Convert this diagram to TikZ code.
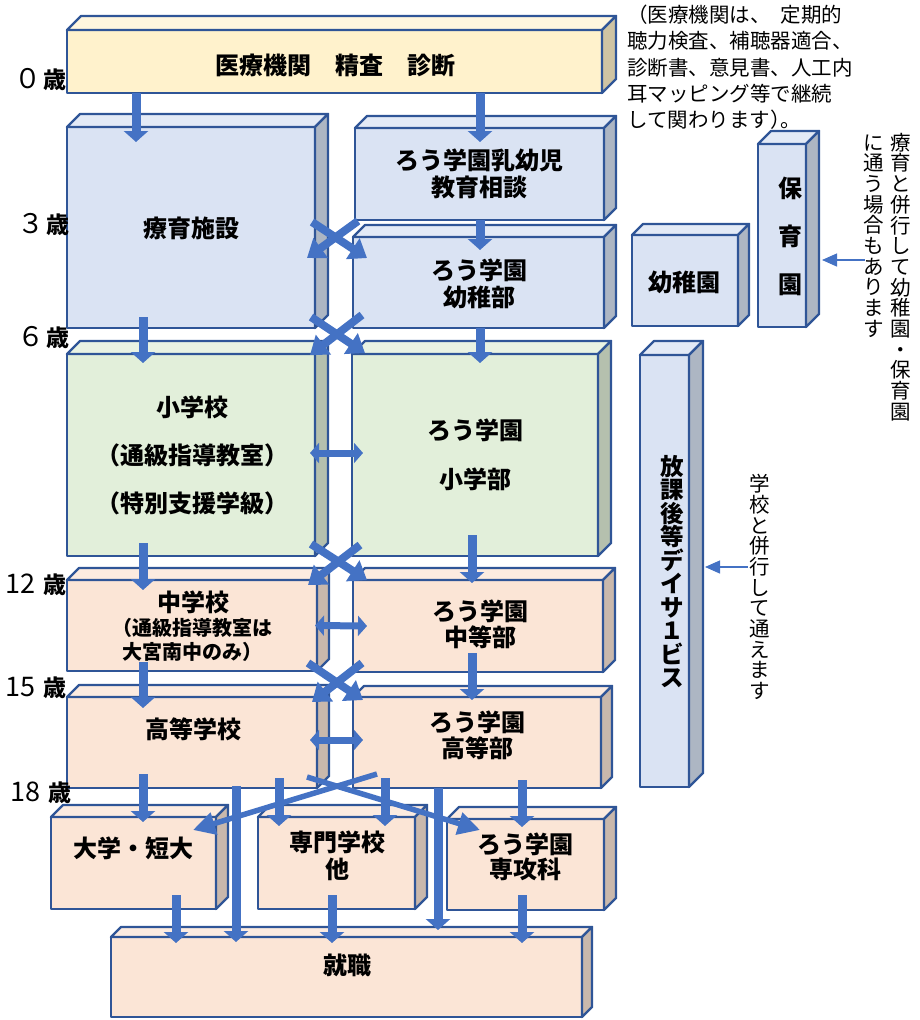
\documentclass[tikz,border=0pt]{standalone}
\usepackage{fontspec}
\setmainfont{Noto Sans CJK JP}
\usetikzlibrary{arrows.meta,calc}
\definecolor{bd}{HTML}{2F5597}
\definecolor{ar}{HTML}{4472C4}
\definecolor{yF}{HTML}{FFF2CC}\definecolor{yT}{HTML}{FFF6DE}\definecolor{yS}{HTML}{CFC4A3}
\definecolor{bF}{HTML}{DAE3F3}\definecolor{bT}{HTML}{E3EAF6}\definecolor{bS}{HTML}{ADB6C3}
\definecolor{gF}{HTML}{E2EFDA}\definecolor{gT}{HTML}{E9F3E3}\definecolor{gS}{HTML}{B5C0AE}
\definecolor{pF}{HTML}{FBE5D6}\definecolor{pT}{HTML}{FCEBE0}\definecolor{pS}{HTML}{C9B8AC}
\newcommand\cubebox[7]{%
  \node[boxfront, fill=#7F, minimum width={(#4-#2)*1pt}, minimum height={(#5-#3)*1pt}] (#1) at ({(#2+#4)/2},{(#3+#5)/2}) {};
  \filldraw[boxedge, fill=#7T] (#1.north west) -- ++(#6,-#6) -- ($(#1.north east)+(#6,-#6)$) -- (#1.north east) -- cycle;
  \filldraw[boxedge, fill=#7S] (#1.north east) -- ++(#6,-#6) -- ($(#1.south east)+(#6,-#6)$) -- (#1.south east) -- cycle;
}
\newcommand\agelabel[2]{{\fontsize{27}{28}\selectfont #1}\hspace{#2}{\fontsize{23}{28}\selectfont\bfseries 歳}}
\newcommand\halfpunct[1]{{\addfontfeature{RawFeature=+halt}#1}}
\begin{document}
\lineskiplimit=-50pt\relax
\begin{tikzpicture}[x=1pt,y=-1pt,
  boxfront/.style={draw=bd, line width=2.4pt, rectangle, inner sep=0pt, outer sep=0pt, line join=round},
  boxedge/.style={draw=bd, line width=2.4pt, line join=round},
  btxt/.style={font=\fontsize{24}{27}\selectfont\bfseries, align=center, inner sep=0pt},
  stxt/.style={font=\fontsize{20}{24}\selectfont\bfseries, align=center, inner sep=0pt},
  age/.style={inner sep=0pt},
  note/.style={font=\fontsize{20.5}{26.3}\selectfont, align=left, inner sep=0pt},
  vnote/.style={font=\fontsize{20.5}{20.7}\selectfont, align=center, inner sep=0pt},
  vbold/.style={font=\fontsize{23.5}{23.5}\selectfont\bfseries, align=center, inner sep=0pt},
  varr/.style={draw=ar, line width=9pt, -{Triangle[width=24pt,length=11pt]}},
  xarr/.style={draw=ar, line width=8pt, -{Triangle[width=24pt,length=17pt]}},
  harr/.style={draw=ar, line width=7pt, {Triangle[width=20pt,length=9pt]}-{Triangle[width=20pt,length=9pt]}},
  barr/.style={draw=ar, line width=5.5pt, -{Triangle[width=22pt,length=22pt]}},
  tarr/.style={draw=ar, line width=1.3pt, -{Triangle[width=13pt,length=15pt]}}
]
\useasboundingbox (0,0) rectangle (919,1020);

% boxes
\cubebox{iryo}{67}{30}{602}{93}{14}{y}
\cubebox{ryoiku}{67}{127}{315}{328}{13}{b}
\cubebox{nyuyoji}{355}{128}{604}{220}{12}{b}
\cubebox{yochibu}{353}{237}{604}{328}{12}{b}
\cubebox{yochien}{632}{235}{738}{326}{11}{b}
\cubebox{hoikuen}{758}{144}{806}{327}{13}{b}
\cubebox{houkago}{640}{355}{689}{787}{14}{b}
\cubebox{shogakko}{67}{354}{315}{556}{13}{g}
\cubebox{shogakubu}{352}{354}{598}{556}{13}{g}
\cubebox{chugakko}{67}{580}{317}{671}{12}{p}
\cubebox{chutobu}{353}{580}{603}{672}{12}{p}
\cubebox{kotogakko}{67}{697}{317}{788}{12}{p}
\cubebox{kotobu}{353}{697}{601}{788}{11}{p}
\cubebox{daigaku}{51}{817}{216}{909}{12}{p}
\cubebox{senmon}{258}{817}{415}{909}{12}{p}
\cubebox{senkoka}{447}{819}{604}{910}{12}{p}
\cubebox{shushoku}{111}{937}{582}{1017}{10}{p}

% box texts
\node[btxt] (t-iryo) at (335,65) {医療機関　精査　診断};
\node[btxt] (t-ryoiku) at (191,228) {療育施設};
\node[btxt] (t-nyuyoji) at (479,173.5) {ろう学園乳幼児\\教育相談};
\node[btxt] (t-yochibu) at (479,283.5) {ろう学園\\幼稚部};
\node[btxt] (t-yochien) at (684,282) {幼稚園};
\node[btxt, font=\fontsize{24}{48}\selectfont\bfseries] (t-hoikuen) at (790,236) {保\\育\\園};
\node[vbold] (t-houkago) at (672,571.5) {放\\課\\後\\等\\デ\\イ\\サ\\１\\ビ\\ス};
\node[btxt, font=\fontsize{24}{48}\selectfont\bfseries] (t-shogakko) at (192,455) {小学校\\（通級指導教室）\\（特別支援学級）};
\node[btxt, font=\fontsize{24}{49}\selectfont\bfseries] (t-shogakubu) at (475,454.5) {ろう学園\\小学部};
\node[btxt] (t-chugakko) at (193,602) {中学校};
\node[stxt] (t-chugakko2) at (192,640) {（通級指導教室は\\大宮南中のみ）};
\node[btxt, font=\fontsize{24}{26}\selectfont\bfseries] (t-chutobu) at (480,624) {ろう学園\\中等部};
\node[btxt] (t-kotogakko) at (193,729) {高等学校};
\node[btxt, font=\fontsize{24}{26}\selectfont\bfseries] (t-kotobu) at (477,735) {ろう学園\\高等部};
\node[btxt] (t-daigaku) at (133,848) {大学・短大};
\node[btxt] (t-senmon) at (337,855.5) {専門学校\\他};
\node[btxt, font=\fontsize{24}{25}\selectfont\bfseries] (t-senkoka) at (525,856.5) {ろう学園\\専攻科};
\node[btxt] (t-shushoku) at (347,965) {就職};

% ages
\node[age] (a0) at (40,80) {\agelabel{０}{2pt}};
\node[age] (a3) at (43,225) {\agelabel{３}{2pt}};
\node[age] (a6) at (43,338) {\agelabel{６}{2pt}};
\node[age] (a12) at (36,585) {\agelabel{12}{8pt}};
\node[age] (a15) at (36,688) {\agelabel{15}{8pt}};
\node[age] (a18) at (41,793) {\agelabel{18}{8pt}};

% notes
\node[note, anchor=west] (note1) at (627,67.5) {（医療機関は、\hspace{0.5em}定期的\\聴力検査、補聴器適合、\\診断書、意見書、人工内\\耳マッピング等で継続\\して関わります\halfpunct{）。}};
\node[vnote] (note2) at (901,277) {療\\育\\と\\併\\行\\し\\て\\幼\\稚\\園\\・\\保\\育\\園};
\node[vnote] (note3) at (874,236) {に\\通\\う\\場\\合\\も\\あ\\り\\ま\\す};
\node[vnote] (note4) at (760,587) {学\\校\\と\\併\\行\\し\\て\\通\\え\\ま\\す};
\coordinate (c1) at (865,260);
\coordinate (c2) at (748,567);
\draw[tarr] (c1) -- ([xshift=16pt,yshift=-24.5pt]hoikuen.east);
\draw[tarr] (c2) -- ([xshift=16pt,yshift=4pt]houkago.east);

% vertical arrows
\draw[varr] ([xshift=69pt]iryo.south west) -- ([xshift=69pt,yshift=-15pt]ryoiku.north west);
\draw[varr] ([xshift=413pt]iryo.south west) -- ([xshift=125pt,yshift=-14pt]nyuyoji.north west);
\draw[varr] ([xshift=125pt]nyuyoji.south west) -- ([xshift=127pt,yshift=-13pt]yochibu.north west);
\draw[varr] ([xshift=76pt,yshift=11pt]ryoiku.south west) -- ([xshift=76pt,yshift=-9pt]shogakko.north west);
\draw[varr] ([xshift=127pt]yochibu.south west) -- ([xshift=128pt,yshift=-9pt]shogakubu.north west);
\draw[varr] ([xshift=76pt,yshift=13pt]shogakko.south west) -- ([xshift=76pt,yshift=-10pt]chugakko.north west);
\draw[varr] ([xshift=120pt,yshift=21pt]shogakubu.south west) -- ([xshift=119pt,yshift=-3pt]chutobu.north west);
\draw[varr] ([xshift=76pt,yshift=9pt]chugakko.south west) -- ([xshift=76pt,yshift=-11pt]kotogakko.north west);
\draw[varr] ([xshift=119pt,yshift=19pt]chutobu.south west) -- ([xshift=119pt,yshift=-3pt]kotobu.north west);
\draw[varr] ([xshift=76pt,yshift=14pt]kotogakko.south west) -- ([xshift=92pt,yshift=-5pt]daigaku.north west);
\draw[varr] ([xshift=169pt,yshift=2pt]kotogakko.south west) -- ([xshift=125pt,yshift=-5pt]shushoku.north west);
\draw[varr] ([xshift=212pt,yshift=10pt]kotogakko.south west) -- ([xshift=21pt,yshift=-9pt]senmon.north west);
\draw[varr] ([xshift=32pt,yshift=10pt]kotobu.south west) -- ([xshift=127pt,yshift=-9pt]senmon.north west);
\draw[varr] ([xshift=85pt]kotobu.south west) -- ([xshift=327pt,yshift=7pt]shushoku.north west);
\draw[varr] ([xshift=169pt,yshift=8pt]kotobu.south west) -- ([xshift=75pt,yshift=-8pt]senkoka.north west);
\draw[varr] ([xshift=125pt,yshift=14pt]daigaku.south west) -- ([xshift=65pt,yshift=-6pt]shushoku.north west);
\draw[varr] ([xshift=74pt,yshift=14pt]senmon.south west) -- ([xshift=221pt,yshift=-6pt]shushoku.north west);
\draw[varr] ([xshift=75pt,yshift=15pt]senkoka.south west) -- ([xshift=411pt,yshift=-6pt]shushoku.north west);

% crossing arrows
\draw[xarr] ([xshift=5pt,yshift=16pt]yochibu.north west) -- ([xshift=-8pt,yshift=-30.5pt]ryoiku.east);
\draw[xarr] ([xshift=-3pt,yshift=5.5pt]ryoiku.east) -- ([xshift=14pt,yshift=-21pt]yochibu.north west);
\draw[xarr] ([xshift=9pt,yshift=13pt]yochibu.south west) -- ([xshift=-5pt,yshift=-1pt]shogakko.north east);
\draw[xarr] ([xshift=-4pt,yshift=11pt]ryoiku.south east) -- ([xshift=13pt,yshift=1pt]shogakubu.north west);
\draw[xarr] ([xshift=8pt,yshift=11pt]shogakubu.south west) -- ([xshift=-9pt,yshift=-5pt]chugakko.north east);
\draw[xarr] ([xshift=-4pt,yshift=12pt]shogakko.south east) -- ([xshift=14pt]chutobu.north west);
\draw[xarr] ([xshift=9pt,yshift=9pt]chutobu.south west) -- ([xshift=-5pt,yshift=-5pt]kotogakko.north east);
\draw[xarr] ([xshift=-9pt,yshift=8pt]chugakko.south east) -- ([xshift=10pt,yshift=-3pt]kotobu.north west);

% horizontal double arrows
\draw[harr] ([xshift=-5pt,yshift=2pt]shogakko.east) -- ([xshift=11pt,yshift=2pt]shogakubu.west);
\draw[harr] ([xshift=-2pt]chugakko.east) -- ([xshift=14pt]chutobu.west);
\draw[harr] ([xshift=-7pt,yshift=2.5pt]kotogakko.east) -- ([xshift=10pt,yshift=2.5pt]kotobu.west);

% bottom crossing
\draw[barr] ([xshift=24pt,yshift=14pt]kotobu.south west) -- ([xshift=-23pt,yshift=-13pt]daigaku.north east);
\draw[barr] ([xshift=-10pt,yshift=11pt]kotogakko.south east) -- ([xshift=33pt,yshift=-11pt]senkoka.north west);
\end{tikzpicture}
\end{document}
